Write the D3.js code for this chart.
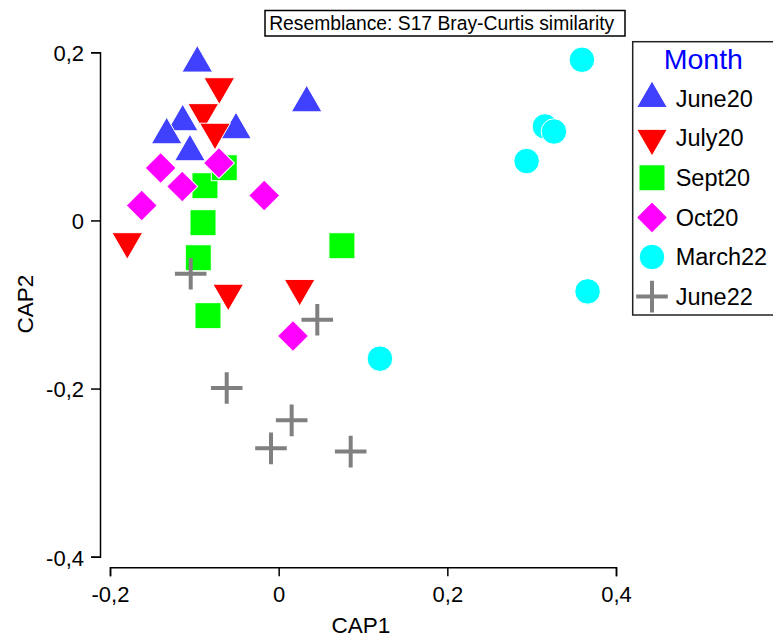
<!DOCTYPE html>
<html>
<head>
<meta charset="utf-8">
<script src="https://cdn.jsdelivr.net/npm/d3@7"></script>
<style>
  body { margin: 0; background: #fff; }
  svg { display: block; font-family: "Liberation Sans", Arial, sans-serif; }
</style>
</head>
<body>
<svg id="chart" width="773" height="636"></svg>
<script>
// ---- Data (CAP1, CAP2) ----
const months = ["June20", "July20", "Sept20", "Oct20", "March22", "June22"];
const june20 = [[-0.0965, 0.1870], [-0.1138, 0.1172], [-0.1328, 0.1017], [-0.0506, 0.1077], [-0.1052, 0.0815], [0.0332, 0.1397]];
const july20 = [[-0.0704, 0.1592], [-0.0894, 0.1284], [-0.0755, 0.1051], [-0.1795, -0.0251], [-0.0598, -0.0864], [0.0249, -0.0807]];
const sept20 = [[-0.0874, 0.0413], [-0.0645, 0.0627], [-0.0897, -0.0027], [-0.0953, -0.0444], [-0.0838, -0.1133], [0.0750, -0.0301]];
const oct20 = [[-0.1399, 0.0623], [-0.1143, 0.0404], [-0.1624, 0.0178], [-0.0708, 0.0683], [-0.0171, 0.0297], [0.0170, -0.1375]];
const march22 = [[0.3596, 0.1911], [0.3157, 0.1118], [0.3264, 0.1058], [0.2940, 0.0706], [0.3663, -0.0844], [0.1201, -0.1644]];
const june22 = [[-0.1043, -0.0634], [-0.0616, -0.1993], [0.0458, -0.1181], [0.0154, -0.2378], [-0.0091, -0.2711], [0.0854, -0.2750]];
const seriesData = [june20, july20, sept20, oct20, march22, june22];
const xTicks = [-0.2, 0, 0.2, 0.4];
const yTicks = [-0.4, -0.2, 0, 0.2];
const titleText = "Resemblance: S17 Bray-Curtis similarity";
const legendTitle = "Month";
const xLabel = "CAP1";
const yLabel = "CAP2";

// ---- Styles ----
const colors = ["#4040ff", "#ff0000", "#00ff00", "#ff00ff", "#00ffff", "#808080"];
const shapes = ["up", "down", "square", "diamond", "circle", "plus"];

const svg = d3.select("#chart");
const x = d3.scaleLinear().domain([-0.2, 0.4]).range([110, 616]);
const y = d3.scaleLinear().domain([-0.4, 0.2]).range([556.7, 52.3]);
const fmt = v => d3.format(".1f")(v).replace(".", ",").replace(/^0,0$/, "0").replace("−", "-");
const tickFmt = v => v === 0 ? "0" : fmt(v);

// X axis
const gx = svg.append("g").attr("transform", "translate(0,567.3)")
  .call(d3.axisBottom(x).tickValues(xTicks).tickFormat(tickFmt).tickSizeOuter(0).tickSize(9));
gx.select(".domain").attr("stroke", "#000").attr("stroke-width", 1.5);
gx.selectAll(".tick line").attr("stroke", "#000").attr("stroke-width", 1.5);
gx.selectAll(".tick text").attr("y", 35).attr("dy", 0).attr("fill", "#000")
  .style("font-size", "22px").style("font-family", "Liberation Sans, Arial, sans-serif");

// Y axis
const gy = svg.append("g").attr("transform", "translate(100,0)")
  .call(d3.axisLeft(y).tickValues(yTicks).tickFormat(tickFmt).tickSizeOuter(0).tickSize(9));
gy.select(".domain").attr("stroke", "#000").attr("stroke-width", 1.5);
gy.selectAll(".tick line").attr("stroke", "#000").attr("stroke-width", 1.5);
gy.selectAll(".tick text").attr("x", -16).attr("dy", "0.38em").attr("fill", "#000")
  .style("font-size", "22px").style("font-family", "Liberation Sans, Arial, sans-serif");

// Axis labels
svg.append("text").attr("x", 361).attr("y", 632.5).attr("text-anchor", "middle")
  .style("font-size", "22.5px").text(xLabel);
svg.append("text").attr("transform", "translate(33.3,304) rotate(-90)").attr("text-anchor", "middle")
  .style("font-size", "22.5px").text(yLabel);

// Title box
svg.append("rect").attr("x", 265).attr("y", 10.5).attr("width", 360).attr("height", 25.5)
  .attr("fill", "#fff").attr("stroke", "#000").attr("stroke-width", 1.5);
svg.append("text").attr("x", 441.7).attr("y", 30).attr("text-anchor", "middle")
  .style("font-size", "19.3px").text(titleText);

// Marker drawing
const triSize = 408, sqSize = 676, diaSize = 480, circSize = 511, plusArm = 15.8;
function drawMarker(g, shape, color) {
  if (shape === "plus") {
    g.append("path").attr("d", `M${-plusArm},0H${plusArm}M0,${-plusArm}V${plusArm}`)
      .attr("stroke", color).attr("stroke-width", 4).attr("fill", "none");
    return;
  }
  let type, size, rot = 0;
  if (shape === "up") { type = d3.symbolTriangle; size = triSize; }
  else if (shape === "down") { type = d3.symbolTriangle; size = triSize; rot = 180; }
  else if (shape === "square") { type = d3.symbolSquare; size = sqSize; }
  else if (shape === "diamond") { type = d3.symbolSquare; size = diaSize; rot = 45; }
  else { type = d3.symbolCircle; size = circSize; }
  g.append("path").attr("d", d3.symbol().type(type).size(size)())
    .attr("transform", rot ? `rotate(${rot})` : null)
    .attr("fill", color).attr("stroke", "#fff").attr("stroke-width", 1);
}

// Points
const plot = svg.append("g");
seriesData.forEach((pts, i) => {
  pts.forEach(p => {
    const g = plot.append("g").attr("transform", `translate(${x(p[0])},${y(p[1])})`);
    drawMarker(g, shapes[i], colors[i]);
  });
});

// Legend
const lg = svg.append("g");
lg.append("rect").attr("x", 632.7).attr("y", 41.7).attr("width", 160).attr("height", 273.3)
  .attr("fill", "#fff").attr("stroke", "#222").attr("stroke-width", 1.5);
lg.append("text").attr("x", 703.3).attr("y", 69).attr("text-anchor", "middle")
  .attr("fill", "#0000ff").style("font-size", "28.5px").text(legendTitle);
months.forEach((m, i) => {
  const cy = 98.6 + 39.6 * i;
  const g = lg.append("g").attr("transform", `translate(652,${cy})`);
  drawMarker(g, shapes[i], colors[i]);
  lg.append("text").attr("x", 675.7).attr("y", cy + 8.2).attr("fill", "#000")
    .style("font-size", "23.5px").text(m);
});
</script>
</body>
</html>
